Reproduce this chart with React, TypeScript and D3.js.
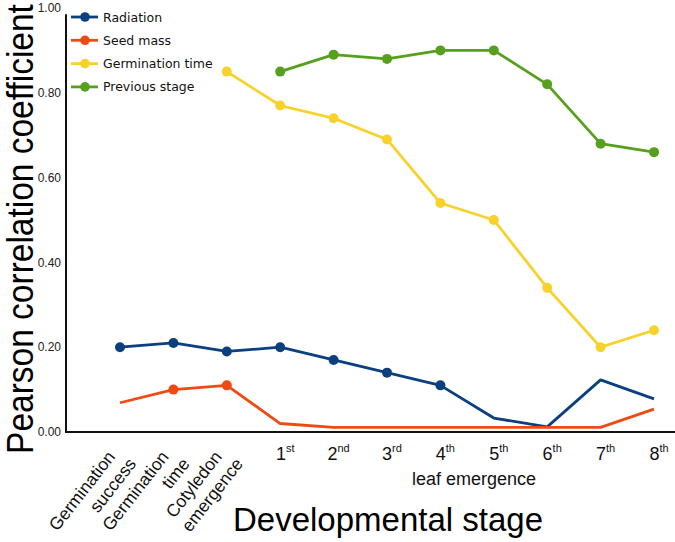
import React from "react";
import * as d3 from "d3";

const categories = [
  "Germination success",
  "Germination time",
  "Cotyledon emergence",
  "1st", "2nd", "3rd", "4th", "5th", "6th", "7th", "8th",
];
const rotatedLabels = [
  ["Germination", "success"],
  ["Germination", "time"],
  ["Cotyledon", "emergence"],
];
const leafNumbers = ["1", "2", "3", "4", "5", "6", "7", "8"];
const leafSuffixes = ["st", "nd", "rd", "th", "th", "th", "th", "th"];

const seriesNames = ["Radiation", "Seed mass", "Germination time", "Previous stage"];
const seriesColors = ["#0b3f80", "#f04a14", "#f8d22a", "#56a01e"];

const radiation = [0.20, 0.21, 0.19, 0.20, 0.17, 0.14, 0.11, 0.033, 0.012, 0.123, 0.078];
const radiationMarked = [true, true, true, true, true, true, true, false, false, false, false];
const seedMass = [0.069, 0.10, 0.11, 0.02, 0.011, 0.011, 0.011, 0.011, 0.011, 0.011, 0.054];
const seedMassMarked = [false, true, true, false, false, false, false, false, false, false, false];
const germinationTime = [null, null, 0.85, 0.77, 0.74, 0.69, 0.54, 0.50, 0.34, 0.20, 0.24];
const germinationTimeMarked = [false, false, true, true, true, true, true, true, true, true, true];
const previousStage = [null, null, null, 0.85, 0.89, 0.88, 0.90, 0.90, 0.82, 0.68, 0.66];
const previousStageMarked = [false, false, false, true, true, true, true, true, true, true, true];

const yTicks = [0, 0.2, 0.4, 0.6, 0.8, 1.0];

const W = 675;
const H = 542;

export default function App() {
  const x = d3.scalePoint<string>().domain(categories).range([120, 654]);
  const y = d3.scaleLinear().domain([0, 1]).range([432, 8]);

  const seriesValues = [radiation, seedMass, germinationTime, previousStage];
  const seriesMarked = [radiationMarked, seedMassMarked, germinationTimeMarked, previousStageMarked];

  const line = d3
    .line<[string, number | null]>()
    .defined((d) => d[1] !== null)
    .x((d) => x(d[0]) as number)
    .y((d) => y(d[1] as number));

  const axisFont = "'Liberation Sans', Arial, sans-serif";
  const legendFont = "'DejaVu Sans', sans-serif";

  return (
    <svg
      width={W}
      height={H}
      style={{ position: "absolute", left: 0, top: 0, background: "#fff" }}
    >
      <rect x={0} y={0} width={W} height={H} fill="#fff" />
      {/* axes */}
      <line x1={66} x2={66} y1={y(0.985)} y2={y(0) + 1} stroke="#111" strokeWidth={2} />
      <line x1={65} x2={675} y1={y(0)} y2={y(0)} stroke="#111" strokeWidth={2} />
      {yTicks.map((t) => (
        <text
          key={t}
          x={61}
          y={y(t)}
          dy="0.35em"
          textAnchor="end"
          fontSize={12}
          fontFamily={axisFont}
          fill="#222"
        >
          {t.toFixed(2)}
        </text>
      ))}

      {/* series */}
      {seriesValues.map((vals, si) => {
        const pts = categories.map((c, i) => [c, vals[i]] as [string, number | null]);
        return (
          <g key={si}>
            <path
              d={line(pts) || ""}
              fill="none"
              stroke={seriesColors[si]}
              strokeWidth={2.8}
              strokeLinejoin="round"
            />
            {pts.map((p, i) =>
              p[1] !== null && seriesMarked[si][i] ? (
                <circle
                  key={i}
                  cx={x(p[0]) as number}
                  cy={y(p[1] as number)}
                  r={5}
                  fill={seriesColors[si]}
                />
              ) : null
            )}
          </g>
        );
      })}

      {/* legend */}
      {seriesNames.map((n, i) => {
        const ly = 17 + i * 23.3;
        return (
          <g key={n}>
            <line x1={71} x2={98} y1={ly} y2={ly} stroke={seriesColors[i]} strokeWidth={2.8} />
            <circle cx={85} cy={ly} r={4.8} fill={seriesColors[i]} />
            <text x={103} y={ly} dy="0.36em" fontSize={12.5} fontFamily={legendFont} fill="#111">
              {n}
            </text>
          </g>
        );
      })}

      {/* rotated category labels */}
      {rotatedLabels.map((lines, i) => {
        const cx = x(categories[i]) as number;
        return (
          <g key={i} fontSize={17.5} fontFamily={axisFont} fill="#111">
            <text textAnchor="end" transform={`translate(${cx - 4},457) rotate(-52)`}>
              {lines[0]}
            </text>
            <text textAnchor="end" transform={`translate(${cx + 17},464) rotate(-52)`}>
              {lines[1]}
            </text>
          </g>
        );
      })}

      {/* leaf labels */}
      {leafNumbers.map((num, i) => {
        const cx = x(categories[i + 3]) as number;
        return (
          <text
            key={num}
            x={cx + 5}
            y={460}
            textAnchor="middle"
            fontSize={18}
            fontFamily={axisFont}
            fill="#111"
          >
            {num}
            <tspan fontSize={11} dy={-8}>
              {leafSuffixes[i]}
            </tspan>
          </text>
        );
      })}
      <text
        x={474}
        y={485}
        textAnchor="middle"
        fontSize={18}
        fontFamily={axisFont}
        fill="#111"
      >
        leaf emergence
      </text>

      {/* axis titles */}
      <text
        x={388}
        y={531}
        textAnchor="middle"
        fontSize={33}
        fontFamily={axisFont}
        fill="#000"
      >
        Developmental stage
      </text>
      <text
        transform="translate(33,229) rotate(-90) scale(1,1.12)"
        textAnchor="middle"
        fontSize={33.5}
        fontFamily={axisFont}
        fill="#000"
      >
        Pearson correlation coefficient
      </text>
    </svg>
  );
}
